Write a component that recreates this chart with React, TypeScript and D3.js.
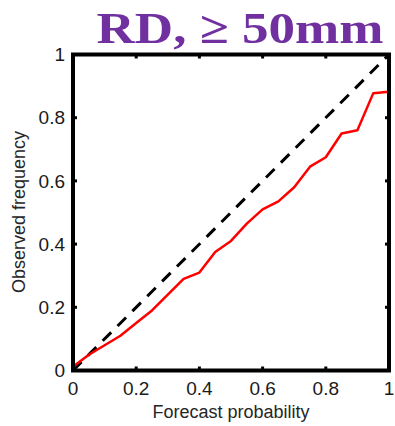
import React, { useEffect } from "react";
import * as d3 from "d3";

const probs = [0, 0.05, 0.1, 0.15, 0.2, 0.25, 0.3, 0.35, 0.4, 0.45, 0.5, 0.55, 0.6, 0.65, 0.7, 0.75, 0.8, 0.85, 0.9, 0.95, 1.0];
const observed = [0.012, 0.05, 0.08, 0.11, 0.15, 0.19, 0.24, 0.29, 0.31, 0.375, 0.41, 0.465, 0.51, 0.535, 0.58, 0.645, 0.675, 0.75, 0.76, 0.877, 0.882];
const tickValues = [0, 0.2, 0.4, 0.6, 0.8, 1];
const tickLabels = ["0", "0.2", "0.4", "0.6", "0.8", "1"];
const diagonal = [0, 1];
const title = "RD, \u2265 50mm";
const xLabel = "Forecast probability";
const yLabel = "Observed frequency";

export default function App() {
  useEffect(() => {
    document.body.style.margin = "0";
  }, []);
  const W = 395, H = 426;
  const x = d3.scaleLinear().domain([0, 1]).range([73, 389]);
  const y = d3.scaleLinear().domain([0, 1]).range([370.5, 54.5]);
  const line = d3.line<number>().x((_, i) => x(probs[i])).y((d) => y(d));
  const diag = d3.line<number>().x((d) => x(d)).y((d) => y(d));
  const tickLen = 4;
  const inner = tickValues.filter((v) => v > 0 && v < 1);
  return (
    <svg width={W} height={H} style={{ position: "absolute", left: 0, top: 0, background: "#fff" }}>
      <text
        x={240}
        y={43}
        textAnchor="middle"
        fontFamily="'Liberation Serif', 'Times New Roman', serif"
        fontWeight="bold"
        fontSize={45}
        fill="#7030A0"
        textLength={287}
        lengthAdjust="spacingAndGlyphs"
      >
        {title}
      </text>
      <path d={diag(diagonal) || ""} fill="none" stroke="#000" strokeWidth={3} strokeDasharray="12 9" />
      <path d={line(observed) || ""} fill="none" stroke="#ff0000" strokeWidth={2.5} strokeLinejoin="round" />
      {inner.map((v) => (
        <g key={"t" + v} stroke="#000" strokeWidth={3}>
          <line x1={x(v)} x2={x(v)} y1={y(0)} y2={y(0) - tickLen} />
          <line x1={x(v)} x2={x(v)} y1={y(1)} y2={y(1) + tickLen} />
          <line x1={x(0)} x2={x(0) + tickLen} y1={y(v)} y2={y(v)} />
          <line x1={x(1)} x2={x(1) - tickLen} y1={y(v)} y2={y(v)} />
        </g>
      ))}
      <rect x={x(0)} y={y(1)} width={x(1) - x(0)} height={y(0) - y(1)} fill="none" stroke="#000" strokeWidth={4} />
      <g fontFamily="'Liberation Sans', Arial, sans-serif" fontSize={19} fill="#1a1a1a">
        {tickValues.map((v, i) => (
          <text key={"x" + v} x={x(v)} y={395} textAnchor="middle">
            {tickLabels[i]}
          </text>
        ))}
        {tickValues.map((v, i) => (
          <text key={"y" + v} x={65} y={y(v)} dy="0.35em" textAnchor="end">
            {tickLabels[i]}
          </text>
        ))}
      </g>
      <g fontFamily="'Liberation Sans', Arial, sans-serif" fontSize={18} fill="#262626">
        <text x={231} y={418} textAnchor="middle">{xLabel}</text>
        <text transform={`translate(24.5,212) rotate(-90)`} textAnchor="middle">{yLabel}</text>
      </g>
    </svg>
  );
}
